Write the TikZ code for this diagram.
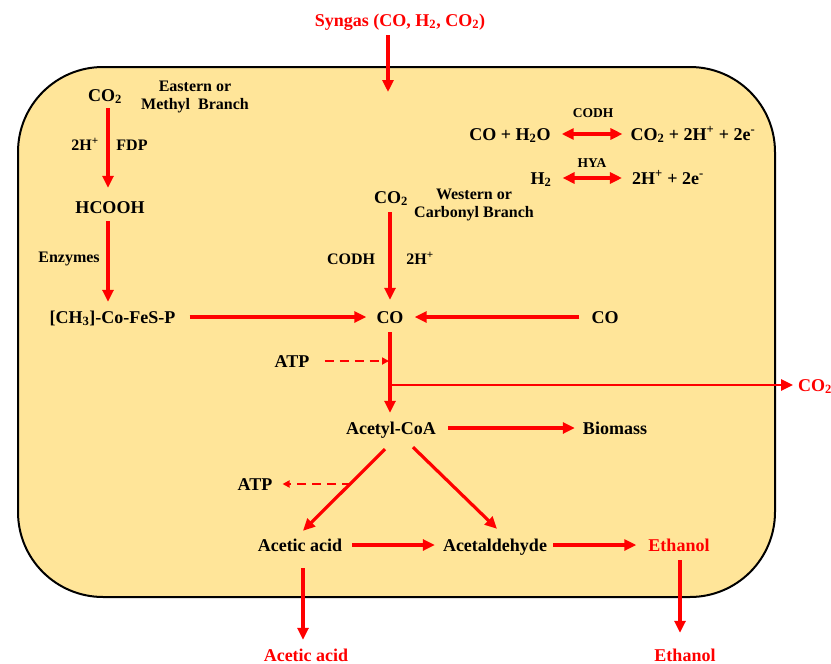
\documentclass[tikz,border=0pt]{standalone}
\usepackage{fontspec}
\setmainfont{Liberation Serif}
\usetikzlibrary{arrows.meta,calc}
\definecolor{cellfill}{RGB}{255,229,153}
\begin{document}
\begin{tikzpicture}[x=1pt,y=-1pt,
  every node/.style={inner sep=0pt},
  lbl/.style={font=\fontsize{18}{20}\selectfont\bfseries, text height=12pt, text depth=0pt},
  rlbl/.style={lbl, text=red},
  sm/.style={font=\fontsize{16}{18}\selectfont\bfseries, text height=10.6pt, text depth=0pt},
  smtwo/.style={font=\fontsize{16}{18}\selectfont\bfseries, align=center},
  tn/.style={font=\fontsize{13.5}{15}\selectfont\bfseries, text height=9pt, text depth=0pt},
  arr/.style={draw=red, line width=3.2pt, -{Triangle[length=12pt,width=11pt]}},
  darr/.style={draw=red, line width=2.2pt, dash pattern=on 9pt off 6pt, -{Triangle[length=7pt,width=7pt]}},
  dbl/.style={draw=red, line width=3.2pt, {Triangle[length=12pt,width=11pt]}-{Triangle[length=12pt,width=11pt]}},
]
\fill[white] (0,0) rectangle (831,664);
\useasboundingbox (0,0) rectangle (831,664);
% cell
\draw[line width=2pt, fill=cellfill, rounded corners=85pt] (18,67) rectangle (775,597);

% syngas
\node[rlbl] (syn) at (400,20) {Syngas (CO, H\textsubscript{2}, CO\textsubscript{2})};
\coordinate (cellin) at (388,92);
\draw[arr, shorten <=9pt] (cellin |- syn.south) -- (cellin);

% eastern branch
\node[lbl] (co2e) at (105,95) {CO\textsubscript{2}};
\node[smtwo] (east) at (195,97) {Eastern or\\Methyl~ Branch};
\node[sm] (h2pe) at (85,145) {2H\textsuperscript{+}};
\node[sm] (fdp) at (132,145) {FDP};
\node[lbl] (hcooh) at (110,207) {HCOOH};
\node[sm] (enz) at (69,257) {Enzymes};
\node[lbl] (ch3) at (112.5,317) {[CH\textsubscript{3}]-Co-FeS-P};
\draw[arr, shorten <=7pt, shorten >=13pt] ([xshift=3pt]co2e.south) -- ([xshift=3pt]co2e.south |- hcooh.north);
\draw[arr, shorten <=8pt, shorten >=9pt] ([xshift=-2pt]hcooh.south) -- ([xshift=-2pt]hcooh.south |- ch3.north);

% western branch
\node[lbl] (co2w) at (391,197) {CO\textsubscript{2}};
\node[smtwo] (west) at (474,205) {Western or\\Carbonyl Branch};
\node[sm] (codhw) at (351,259) {CODH};
\node[sm] (h2pw) at (420,259) {2H\textsuperscript{+}};
\node[lbl] (co) at (390,317) {CO};
\node[lbl] (cor) at (605,317) {CO};
\draw[arr, shorten <=9pt, shorten >=11pt] (co.north |- co2w.south) -- (co.north);
\draw[arr, shorten <=14pt, shorten >=10pt] (ch3.east) -- (co.west);
\draw[arr, shorten <=12pt, shorten >=11pt] (cor.west) -- (co.east);

% top right reactions
\node[tn] (codht) at (593,113) {CODH};
\node[lbl] (coh2o) at (510,134) {CO + H\textsubscript{2}O};
\node[lbl] (co2prod) at (693,134) {CO\textsubscript{2} + 2H\textsuperscript{+} + 2e\textsuperscript{-}};
\draw[dbl, shorten <=11pt, shorten >=8pt] (coh2o.east) -- (co2prod.west);
\node[tn] (hya) at (592,163) {HYA};
\node[lbl] (h2) at (541,178) {H\textsubscript{2}};
\node[lbl] (twohp) at (668,178) {2H\textsuperscript{+} + 2e\textsuperscript{-}};
\draw[dbl, shorten <=11pt, shorten >=10pt] (h2.east) -- (twohp.west);

% acetyl-CoA
\node[lbl] (atp1) at (292,361) {ATP};
\node[lbl] (acetyl) at (391,428) {Acetyl-CoA};
\node[lbl] (biomass) at (615,428) {Biomass};
\node[rlbl, anchor=west] (co2out) at (798,385) {CO\textsubscript{2}};
\coordinate (j1) at (390,361);
\coordinate (j2) at (390,385);
\draw[arr, shorten <=9pt, shorten >=9pt] (co.south) -- (co.south |- acetyl.north);
\draw[darr, shorten <=15pt, shorten >=1pt] (atp1.east) -- (j1);
\draw[arr, line width=2.6pt, shorten >=5pt] (j2) -- (co2out.west);
\draw[arr, shorten <=12pt, shorten >=8pt] (acetyl.east) -- (biomass.west);

% products
\node[lbl] (atp2) at (255,484) {ATP};
\node[lbl] (acetic) at (300,545) {Acetic acid};
\node[lbl] (acetald) at (495,545) {Acetaldehyde};
\node[rlbl] (ethanol) at (679,545) {Ethanol};
\coordinate (j3) at (351,484);
\draw[arr] ($(acetyl.south)+(-6,15)$) -- ($(acetic.north)+(3,-8)$);
\draw[arr] ($(acetyl.south)+(22,13)$) -- ($(acetald.north)+(2,-10)$);
\draw[darr, shorten >=10pt] (j3) -- (atp2.east);
\draw[arr, shorten <=10pt, shorten >=8pt] (acetic.east) -- (acetald.west);
\draw[arr, shorten <=6pt, shorten >=12pt] (acetald.east) -- (ethanol.west);

% outside
\node[rlbl] (acetic2) at (306,655) {Acetic acid};
\node[rlbl] (ethanol2) at (685,655) {Ethanol};
\draw[arr, shorten <=17pt, shorten >=9pt] ([xshift=3pt]acetic.south) -- ([xshift=3pt]acetic.south |- acetic2.north);
\draw[arr, shorten <=9pt, shorten >=16pt] ([xshift=1pt]ethanol.south) -- ([xshift=1pt]ethanol.south |- ethanol2.north);
\end{tikzpicture}
\end{document}
